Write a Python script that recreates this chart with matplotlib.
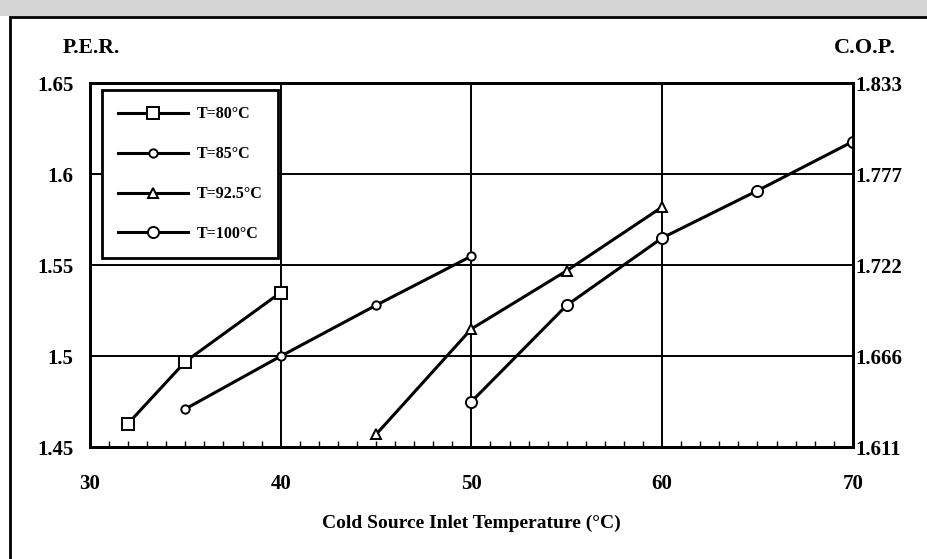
import numpy as np
import matplotlib.pyplot as plt
from matplotlib.patches import Rectangle
from matplotlib.ticker import MultipleLocator

plt.rcParams['font.family'] = ['Liberation Serif', 'DejaVu Serif']
plt.rcParams['font.weight'] = 'bold'

# data
x_80 = [32, 35, 40]
per_80 = [1.463, 1.497, 1.535]
x_85 = [35, 40, 45, 50]
per_85 = [1.471, 1.500, 1.528, 1.555]
x_925 = [45, 50, 55, 60]
per_925 = [1.457, 1.515, 1.547, 1.582]
x_100 = [50, 55, 60, 65, 70]
per_100 = [1.475, 1.528, 1.565, 1.591, 1.618]

per_ticks = [1.45, 1.5, 1.55, 1.6, 1.65]
per_labels = ['1.45', '1.5', '1.55', '1.6', '1.65']
cop_labels = ['1.611', '1.666', '1.722', '1.777', '1.833']
x_ticks = [30, 40, 50, 60, 70]

fig = plt.figure(figsize=(9.27, 5.59), dpi=100)
ax = fig.add_axes([0.097, 0.2, 0.823, 0.651])

# scanned page: grey strip on top and the frame line
fig.patches.append(Rectangle((0, 0.972), 1, 0.03, transform=fig.transFigure,
                             color='#d6d6d6', lw=0))
fig.patches.append(Rectangle((0.011, -0.1), 1.2, 1.07, transform=fig.transFigure,
                             fill=False, lw=2, color='black'))

series = [
    (x_80, per_80, 's', 8, 'T=80°C'),
    (x_85, per_85, 'o', 6, 'T=85°C'),
    (x_925, per_925, '^', 7, 'T=92.5°C'),
    (x_100, per_100, 'o', 8, 'T=100°C'),
]
for xs, ys, m, ms, lab in series:
    ax.plot(xs, ys, color='black', lw=2.2, marker=m, ms=ms, mfc='white',
            mec='black', mew=1.4, label=lab, zorder=3)

ax.set_xlim(30, 70)
ax.set_ylim(1.45, 1.65)
ax.set_xticks(x_ticks)
ax.set_yticks(per_ticks)
ax.set_yticklabels(per_labels)
ax.xaxis.set_minor_locator(MultipleLocator(1))
ax.grid(True, color='black', lw=1.4)
for s in ax.spines.values():
    s.set_linewidth(2)
ax.tick_params(axis='x', which='major', length=0, pad=19, labelsize=15)
ax.tick_params(axis='x', which='minor', direction='in', length=4, width=1.0)
ax.tick_params(axis='y', length=0, pad=12, labelsize=15)

ax2 = ax.twinx()
ax2.set_ylim(1.45, 1.65)
ax2.set_yticks(per_ticks)
ax2.set_yticklabels(cop_labels)
ax2.tick_params(axis='y', length=0, pad=2, labelsize=15)
for s in ax2.spines.values():
    s.set_linewidth(2)

ax.set_xlabel('Cold Source Inlet Temperature (°C)', fontsize=14,
              fontweight='bold', labelpad=15)
fig.text(0.068, 0.905, 'P.E.R.', fontsize=15.5, fontweight='bold', ha='left')
fig.text(0.9, 0.905, 'C.O.P.', fontsize=16, fontweight='bold', ha='left')

leg = ax.legend(loc='upper left', bbox_to_anchor=(0.016, 0.981), fontsize=11.5,
                frameon=True, fancybox=False, edgecolor='black', framealpha=1,
                handlelength=4.4, handletextpad=0.5, labelspacing=1.5,
                borderpad=1.0, borderaxespad=0)
leg.get_frame().set_linewidth(2)

fig.savefig('out.png', dpi=100)
